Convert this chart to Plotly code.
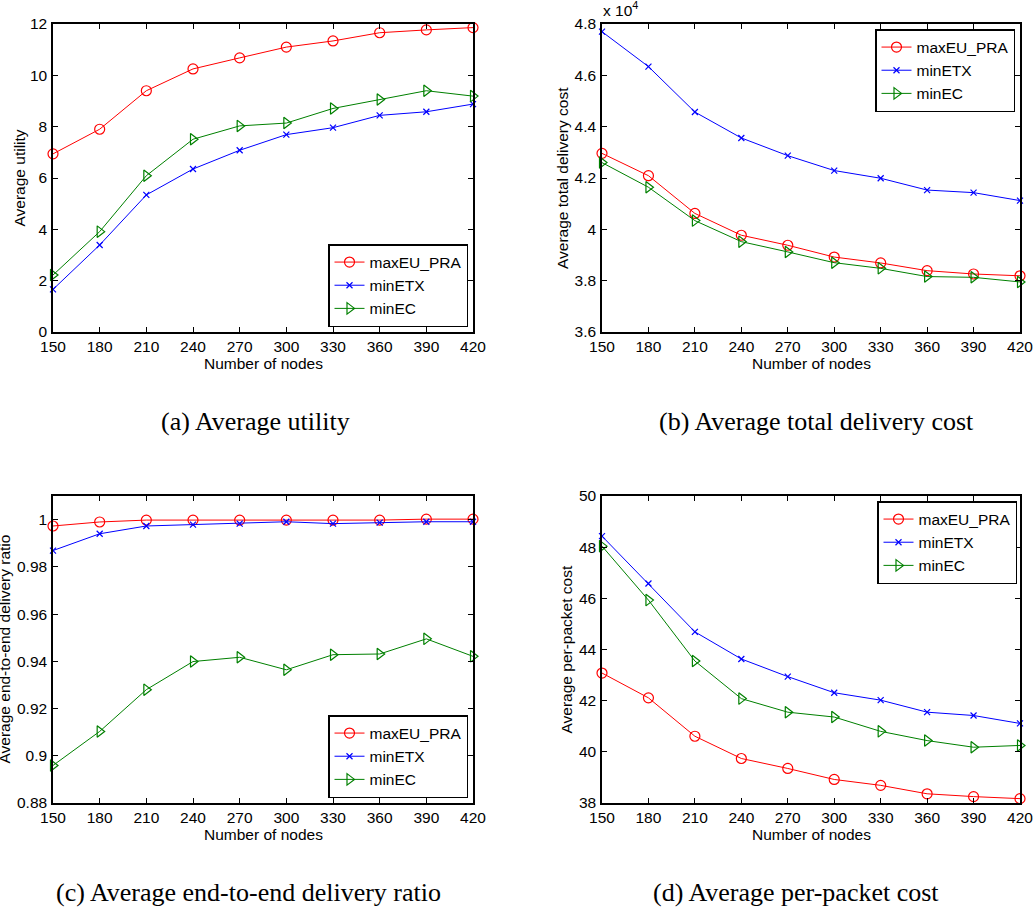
import plotly.graph_objects as go

W, H = 1036, 909

nodes = [150, 180, 210, 240, 270, 300, 330, 360, 390, 420]
series_names = ["maxEU_PRA", "minETX", "minEC"]

# (a) Average utility
util_maxEU = [6.94, 7.90, 9.40, 10.25, 10.68, 11.10, 11.34, 11.66, 11.77, 11.86]
util_minETX = [1.66, 3.39, 5.34, 6.35, 7.08, 7.69, 7.96, 8.44, 8.58, 8.88]
util_minEC = [2.22, 3.91, 6.09, 7.51, 8.03, 8.14, 8.71, 9.06, 9.40, 9.19]

# (b) Average total delivery cost (units of 10^4)
cost_maxEU = [4.296, 4.209, 4.062, 3.977, 3.938, 3.892, 3.869, 3.839, 3.826, 3.819]
cost_minETX = [4.770, 4.634, 4.457, 4.356, 4.287, 4.229, 4.199, 4.153, 4.143, 4.112]
cost_minEC = [4.260, 4.164, 4.034, 3.952, 3.912, 3.870, 3.848, 3.816, 3.813, 3.795]

# (c) Average end-to-end delivery ratio
ratio_maxEU = [0.9973, 0.9990, 0.9998, 0.9998, 0.9998, 0.9998, 0.9998, 0.9998, 1.0002, 1.0002]
ratio_minETX = [0.9869, 0.9940, 0.9973, 0.9979, 0.9983, 0.9991, 0.9983, 0.9987, 0.9991, 0.9991]
ratio_minEC = [0.8959, 0.9103, 0.9280, 0.9399, 0.9417, 0.9364, 0.9428, 0.9431, 0.9495, 0.9421]

# (d) Average per-packet cost
pp_maxEU = [43.08, 42.11, 40.61, 39.74, 39.35, 38.92, 38.69, 38.36, 38.25, 38.17]
pp_minETX = [48.43, 46.58, 44.69, 43.63, 42.94, 42.31, 42.02, 41.55, 41.42, 41.11]
pp_minEC = [48.04, 45.93, 43.55, 42.08, 41.55, 41.36, 40.80, 40.44, 40.18, 40.25]

y_titles = ["Average utility", "Average total delivery cost",
            "Average end-to-end delivery ratio", "Average per-packet cost"]
x_title = "Number of nodes"
captions = ["(a) Average utility", "(b) Average total delivery cost",
            "(c) Average end-to-end delivery ratio", "(d) Average per-packet cost"]

y_ranges = [[0, 12], [3.6, 4.8], [0.88, 1.01], [38, 50]]
y_dticks = [2, 0.2, 0.02, 2]

colors = ["#ff0000", "#0000ff", "#008000"]
symbols = ["circle-open", "x-thin-open", "triangle-right-open"]
msizes = [10, 6, 10]

SANS = "Liberation Sans, Arial, sans-serif"
SERIF = "Liberation Serif, Times New Roman, serif"

# panel pixel boxes (left, right, top, bottom)
boxes = [(53, 473, 24, 332), (602, 1020, 24, 332),
         (53, 473, 496, 803), (602, 1020, 496, 803)]

def px(x):
    return x / W

def py(y):
    return 1 - y / H

fig = go.Figure()

data_sets = [
    [util_maxEU, util_minETX, util_minEC],
    [cost_maxEU, cost_minETX, cost_minEC],
    [ratio_maxEU, ratio_minETX, ratio_minEC],
    [pp_maxEU, pp_minETX, pp_minEC],
]

legend_keys = ["legend", "legend2", "legend3", "legend4"]

for p, sets in enumerate(data_sets):
    xa = "x" if p == 0 else f"x{p+1}"
    ya = "y" if p == 0 else f"y{p+1}"
    for s, vals in enumerate(sets):
        fig.add_trace(go.Scatter(
            x=nodes, y=vals, name=series_names[s], mode="lines+markers",
            line=dict(color=colors[s], width=1),
            marker=dict(symbol=symbols[s], size=msizes[s], color=colors[s],
                        line=dict(color=colors[s], width=1.2)),
            xaxis=xa, yaxis=ya, legend=legend_keys[p], cliponaxis=False,
        ))

layout = dict(
    width=W, height=H, margin=dict(l=0, r=0, t=0, b=0, autoexpand=False),
    paper_bgcolor="white", plot_bgcolor="white",
    font=dict(family=SANS, size=15.5, color="black"),
    showlegend=True,
)

axis_common = dict(
    showline=True, linecolor="black", linewidth=1.5, mirror="ticks",
    ticks="inside", ticklen=5, tickwidth=1, tickcolor="black",
    showgrid=False, zeroline=False, automargin=False,
    tickfont=dict(family=SANS, size=15.5, color="black"),
)

for p, (l, r, t, b) in enumerate(boxes):
    sx = "" if p == 0 else str(p + 1)
    layout[f"xaxis{sx}"] = dict(
        axis_common, domain=[px(l), px(r)], range=[150, 420],
        tickmode="array", tickvals=nodes, ticktext=[str(n) for n in nodes],
        anchor=f"y{sx}", ticklabelstandoff=0,
    )
    layout[f"yaxis{sx}"] = dict(
        axis_common, domain=[py(b), py(t)], range=y_ranges[p],
        dtick=y_dticks[p], tick0=y_ranges[p][0], anchor=f"x{sx}",
        ticklabelstandoff=1,
    )

legend_common = dict(
    bgcolor="white", bordercolor="black", borderwidth=1.5,
    font=dict(family=SANS, size=15.5, color="black"),
    tracegroupgap=0, itemwidth=30,
)
layout["legend"] = dict(legend_common, x=px(468), y=py(327), xanchor="right", yanchor="bottom")
layout["legend2"] = dict(legend_common, x=px(1015), y=py(29), xanchor="right", yanchor="top")
layout["legend3"] = dict(legend_common, x=px(468), y=py(798), xanchor="right", yanchor="bottom")
layout["legend4"] = dict(legend_common, x=px(1017), y=py(501), xanchor="right", yanchor="top")

annotations = []
ytitle_x = [18.5, 562, 4, 566]
for p, (l, r, t, b) in enumerate(boxes):
    annotations.append(dict(
        text=y_titles[p], x=px(ytitle_x[p]), y=py((t + b) / 2),
        xref="paper", yref="paper", xanchor="center", yanchor="middle",
        textangle=-90, showarrow=False, font=dict(family=SANS, size=15.5),
    ))
    annotations.append(dict(
        text=x_title, x=px((l + r) / 2), y=py(b + 31),
        xref="paper", yref="paper", xanchor="center", yanchor="middle",
        showarrow=False, font=dict(family=SANS, size=15.5),
    ))

cap_pos = [(255, 421), (816, 421), (248, 892), (796, 892)]
for p, (cx, cy) in enumerate(cap_pos):
    annotations.append(dict(
        text=captions[p], x=px(cx), y=py(cy), xref="paper", yref="paper",
        xanchor="center", yanchor="middle", showarrow=False,
        font=dict(family=SERIF, size=26),
    ))

annotations.append(dict(
    text="x 10<sup>4</sup>", x=px(601), y=py(21), xref="paper", yref="paper",
    xanchor="left", yanchor="bottom", showarrow=False,
    font=dict(family=SANS, size=15.5),
))

layout["annotations"] = annotations
fig.update_layout(**layout)
fig.write_html("out.html")
